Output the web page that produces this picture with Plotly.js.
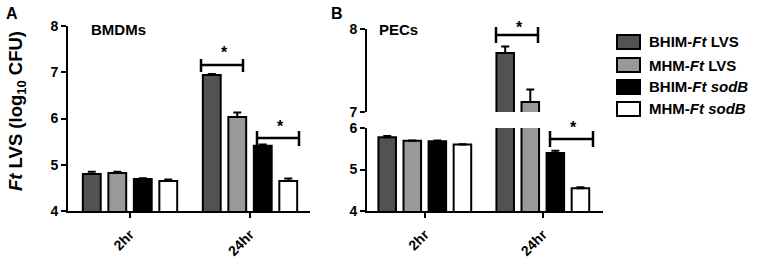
<!DOCTYPE html>
<html>
<head>
<meta charset="utf-8">
<script src="https://cdn.plot.ly/plotly-3.0.1.min.js"></script>
<style>html,body{margin:0;padding:0;background:#fff;}#chart{width:758px;height:262px;}</style>
</head>
<body>
<div id="chart"></div>
<script>
// ---- data ----
var categories = ['2hr', '24hr'];
var seriesNames = ['BHIM-<i>Ft</i> LVS', 'MHM-<i>Ft</i> LVS', 'BHIM-<i>Ft sodB</i>', 'MHM-<i>Ft sodB</i>'];
var bmdmBhimLvs  = [4.80, 6.94];
var bmdmMhmLvs   = [4.82, 6.03];
var bmdmBhimSodB = [4.69, 5.41];
var bmdmMhmSodB  = [4.65, 4.65];
var bmdmErrBhimLvs  = [0.05, 0.02];
var bmdmErrMhmLvs   = [0.03, 0.10];
var bmdmErrBhimSodB = [0.02, 0.03];
var bmdmErrMhmSodB  = [0.03, 0.05];
var pecBhimLvs  = [5.78, 7.71];
var pecMhmLvs   = [5.69, 7.12];
var pecBhimSodB = [5.68, 5.40];
var pecMhmSodB  = [5.60, 4.55];
var pecErrBhimLvs  = [0.03, 0.08];
var pecErrMhmLvs   = [0.01, 0.15];
var pecErrBhimSodB = [0.02, 0.05];
var pecErrMhmSodB  = [0.01, 0.02];
var panelTitles = ['BMDMs', 'PECs'];
var panelLetters = ['A', 'B'];
var yTitle = '<i>Ft</i> LVS (log<sub>10</sub> CFU)';
var sigMark = '*';

// ---- styles ----
var colors = ['#525252', '#999999', '#000000', '#ffffff'];
var FONT = 'Liberation Sans, Arial, sans-serif';
var W = 758, H = 262;
function px(x) { return x / W; }
function py(y) { return 1 - y / H; }

var bmdm = [bmdmBhimLvs, bmdmMhmLvs, bmdmBhimSodB, bmdmMhmSodB];
var bmdmErr = [bmdmErrBhimLvs, bmdmErrMhmLvs, bmdmErrBhimSodB, bmdmErrMhmSodB];
var pec = [pecBhimLvs, pecMhmLvs, pecBhimSodB, pecMhmSodB];
var pecErr = [pecErrBhimLvs, pecErrMhmLvs, pecErrBhimSodB, pecErrMhmSodB];

function barTrace(vals, errs, i, xa, ya) {
  return {
    type: 'bar', x: categories, y: vals, xaxis: xa, yaxis: ya,
    name: seriesNames[i], showlegend: false, hoverinfo: 'skip',
    marker: {color: colors[i], line: {color: '#000', width: 2}},
    error_y: {type: 'data', array: errs, arrayminus: errs.map(function(){return 0;}),
              symmetric: false, color: '#000', thickness: 2, width: 4}
  };
}
var traces = [];
for (var i = 0; i < 4; i++) traces.push(barTrace(bmdm[i], bmdmErr[i], i, 'x', 'y'));
for (var i = 0; i < 4; i++) traces.push(barTrace(pec[i], pecErr[i], i, 'x2', 'y2'));
for (var i = 0; i < 4; i++) traces.push(barTrace(pec[i], pecErr[i], i, 'x3', 'y3'));

var tickFont = {family: FONT, size: 14, color: '#000', weight: 'bold'};
function yAx(dom, range, anchor, tickvals) {
  return {domain: dom, range: range, anchor: anchor, showline: true, linewidth: 2, linecolor: '#000',
          ticks: 'outside', ticklen: 5, tickwidth: 2, tickcolor: '#000', tickvals: tickvals,
          showgrid: false, zeroline: false, tickfont: tickFont, fixedrange: true};
}
function xAx(dom, range, anchor) {
  return {domain: dom, range: range, anchor: anchor, type: 'category', showline: true, linewidth: 2,
          linecolor: '#000', ticks: 'outside', ticklen: 5, tickwidth: 2, tickcolor: '#000',
          tickangle: -45, ticklabelstandoff: 3, showgrid: false, zeroline: false,
          tickfont: tickFont, fixedrange: true};
}

var shapes = [], annotations = [];
function line(x0, y0, x1, y1) {
  shapes.push({type: 'line', xref: 'paper', yref: 'paper', x0: px(x0), y0: py(y0), x1: px(x1), y1: py(y1),
               line: {color: '#000', width: 2.5}});
}
function bracket(xl, xr, y, t0, t1, sx, sy) {
  line(xl, y, xr, y); line(xl, t0, xl, t1); line(xr, t0, xr, t1);
  annotations.push({xref: 'paper', yref: 'paper', x: px(sx), y: py(sy), text: sigMark, showarrow: false,
                    font: {family: FONT, size: 16, color: '#000', weight: 'bold'}, xanchor: 'center', yanchor: 'middle'});
}
bracket(201, 243, 65, 59, 72, 224, 52);
bracket(257, 299, 138, 131, 146, 280, 126);
bracket(496, 538, 35, 27, 43, 519, 27);
bracket(550, 593, 139, 131, 147, 573, 128);

function txt(x, y, text, size, xanchor, angle) {
  annotations.push({xref: 'paper', yref: 'paper', x: px(x), y: py(y), text: text, showarrow: false,
                    textangle: angle || 0, xanchor: xanchor, yanchor: 'middle',
                    font: {family: FONT, size: size, color: '#000', weight: 'bold'}});
}
txt(4, 13, panelLetters[0], 16, 'left');
txt(329, 13, panelLetters[1], 16, 'left');
txt(89, 29, panelTitles[0], 15, 'left');
txt(377, 29, panelTitles[1], 15, 'left');
txt(17, 111, yTitle, 18.5, 'center', -90);

// legend
var legY = [42, 65, 87, 109];
for (var i = 0; i < 4; i++) {
  shapes.push({type: 'rect', xref: 'paper', yref: 'paper', x0: px(617), x1: px(640),
               y0: py(legY[i] - 7), y1: py(legY[i] + 7), fillcolor: colors[i],
               line: {color: '#000', width: 2}});
  txt(647, legY[i], seriesNames[i], 15, 'left');
}

var layout = {
  width: W, height: H, margin: {l: 0, r: 0, t: 0, b: 0},
  paper_bgcolor: '#fff', plot_bgcolor: 'rgba(0,0,0,0)',
  barmode: 'group', bargap: 0.15, bargroupgap: 0.3, showlegend: false,
  font: {family: FONT, color: '#000'},
  xaxis: xAx([px(68), px(310)], [-0.517, 1.5], 'y'),
  yaxis: yAx([py(211), py(26)], [4, 8], 'x', [4, 5, 6, 7, 8]),
  xaxis2: xAx([px(367), px(603)], [-0.49, 1.51], 'y2'),
  yaxis2: yAx([py(211), py(128)], [4, 6], 'x2', [4, 5, 6]),
  xaxis3: Object.assign(xAx([px(367), px(603)], [-0.49, 1.51], 'y3'), {visible: false}),
  yaxis3: yAx([py(112), py(29)], [7, 8], 'x3', [7, 8]),
  shapes: shapes, annotations: annotations
};
Plotly.newPlot('chart', traces, layout, {staticPlot: true, displayModeBar: false});
</script>
</body>
</html>
